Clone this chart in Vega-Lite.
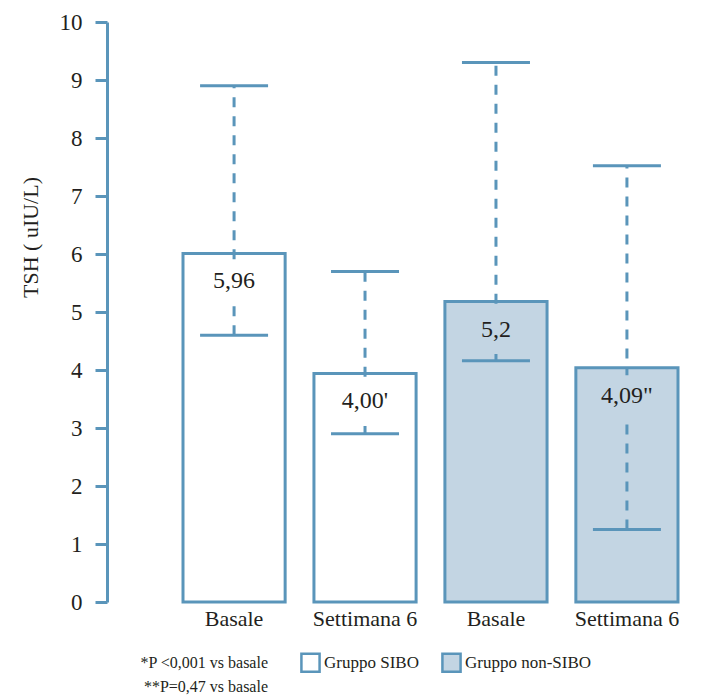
{
  "$schema": "https://vega.github.io/schema/vega-lite/v6.json",
  "autosize": {"type": "none"},
  "padding": {"left": 107, "top": 22, "right": 0, "bottom": 98},
  "width": 594,
  "height": 580,
  "background": "white",
  "config": {
    "view": {"stroke": null},
    "font": "Liberation Serif",
    "axis": {"labelFont": "Liberation Serif", "titleFont": "Liberation Serif", "labelColor": "#231f20", "titleColor": "#231f20", "grid": false, "domainColor": "#5a95ba", "domainWidth": 3, "tickColor": "#5a95ba", "tickWidth": 3},
    "axisY": {"tickCount": 10, "tickSize": 12, "labelPadding": 13, "labelFontSize": 23, "titleFontSize": 22, "titleFontWeight": "normal", "titleAngle": 270, "titleAlign": "center", "titleBaseline": "middle", "titleX": -77, "titleY": 215},
    "axisX": {"labelFontSize": 22, "labelAngle": 0, "ticks": false, "tickSize": 0, "labelPadding": 6, "domain": false},
    "legend": {"labelFont": "Liberation Serif"},
    "text": {"font": "Liberation Serif"}
  },
  "title": {
    "text": ["*P <0,001 vs basale", "**P=0,47 vs basale"],
    "orient": "bottom",
    "anchor": "start",
    "frame": "group",
    "align": "right",
    "baseline": "top",
    "dx": 161,
    "dy": -42,
    "offset": 20,
    "fontSize": 16,
    "fontWeight": "normal",
    "font": "Liberation Serif",
    "color": "#231f20",
    "lineHeight": 24
  },
  "data": {
    "values": [
      {"id": "SIBO|Basale", "group": "Gruppo SIBO", "mean": 6.01, "low": 4.6, "high": 8.9, "label": "5,96"},
      {"id": "SIBO|Settimana 6", "group": "Gruppo SIBO", "mean": 3.94, "low": 2.9, "high": 5.7, "label": "4,00'"},
      {"id": "nonSIBO|Basale", "group": "Gruppo non-SIBO", "mean": 5.18, "low": 4.16, "high": 9.3, "label": "5,2"},
      {"id": "nonSIBO|Settimana 6", "group": "Gruppo non-SIBO", "mean": 4.04, "low": 1.25, "high": 7.52, "label": "4,09\""}
    ]
  },
  "encoding": {
    "x": {
      "field": "id", "type": "nominal", "sort": null,
      "scale": {"range": [76, 571], "paddingInner": 0.22, "paddingOuter": 0},
      "axis": {"title": null, "labelExpr": "split(datum.value, '|')[1]"}
    }
  },
  "layer": [
    {
      "mark": {"type": "bar", "stroke": "#5a95ba", "strokeWidth": 3},
      "encoding": {
        "y": {"field": "mean", "type": "quantitative", "title": "TSH ( uIU/L)", "scale": {"domain": [0, 10], "nice": false}},
        "fill": {"field": "group", "type": "nominal", "scale": {"domain": ["Gruppo SIBO", "Gruppo non-SIBO"], "range": ["#ffffff", "#c3d5e3"]},
          "legend": {"title": null, "orient": "none", "legendX": 193, "legendY": 630, "direction": "horizontal", "symbolType": "square", "symbolSize": 330, "symbolStrokeColor": "#5a95ba", "symbolStrokeWidth": 2.5, "labelFont": "Liberation Serif", "labelFontSize": 17, "labelColor": "#231f20", "labelOffset": 3, "columnPadding": 18}}
      }
    },
    {
      "mark": {"type": "rule", "stroke": "#5a95ba", "strokeWidth": 3, "strokeDash": [10, 9]},
      "encoding": {
        "y": {"field": "low", "type": "quantitative", "title": "TSH ( uIU/L)"},
        "y2": {"field": "high"}
      }
    },
    {
      "mark": {"type": "point", "shape": "M-1,-0.9H1V0.9H-1Z", "size": 2500, "filled": true, "opacity": 1, "strokeWidth": 0, "yOffset": 30},
      "encoding": {
        "y": {"field": "mean", "type": "quantitative", "title": "TSH ( uIU/L)"},
        "fill": {"field": "group", "type": "nominal", "legend": null}
      }
    },
    {
      "mark": {"type": "tick", "color": "#5a95ba", "size": 68, "thickness": 3, "orient": "horizontal", "opacity": 1},
      "encoding": {"y": {"field": "low", "type": "quantitative", "title": "TSH ( uIU/L)"}}
    },
    {
      "mark": {"type": "tick", "color": "#5a95ba", "size": 68, "thickness": 3, "orient": "horizontal", "opacity": 1},
      "encoding": {"y": {"field": "high", "type": "quantitative", "title": "TSH ( uIU/L)"}}
    },
    {
      "mark": {"type": "text", "fontSize": 24, "font": "Liberation Serif", "color": "#231f20", "baseline": "middle", "dy": 28},
      "encoding": {
        "y": {"field": "mean", "type": "quantitative", "title": "TSH ( uIU/L)"},
        "text": {"field": "label"}
      }
    },
    {
      "mark": {"type": "rule", "stroke": "#5a95ba", "strokeWidth": 3},
      "encoding": {
        "y": {"datum": 0, "type": "quantitative", "title": "TSH ( uIU/L)"}
      }
    }
  ]
}
